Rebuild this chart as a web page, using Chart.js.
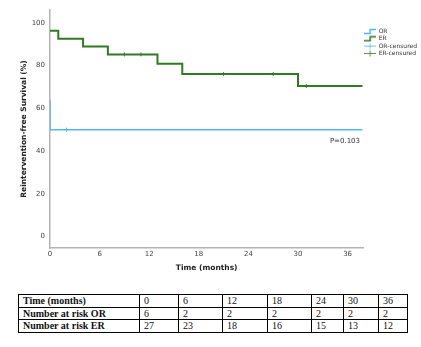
<!DOCTYPE html>
<html>
<head>
<meta charset="utf-8">
<script src="https://cdn.jsdelivr.net/npm/chart.js@4"></script>
<style>
  body { margin: 0; background: #fff; }
  #wrap { position: relative; width: 421px; height: 282px; }
  #risk { position: absolute; left: 18px; top: 294px; border-collapse: collapse;
          font-family: "Liberation Serif", "Times New Roman", serif; font-size: 10px; color: #111; }
  #risk td { border: 1px solid #000; height: 11.6px; padding: 0 0 0 4px; line-height: 11px; }
  #risk td.lab { font-weight: bold; }
</style>
</head>
<body>
<div id="wrap"><canvas id="km"></canvas></div>
<table id="risk"></table>
<script>
// ER group (step points: time in months, survival %)
const erTimes = [0, 1, 4, 7, 13, 16, 30, 37.8];
const erSurv = [96.3, 92.6, 88.9, 85.2, 80.8, 76.0, 70.4, 70.4];
const erCensorTimes = [9, 11, 21, 27, 31];
const erCensorSurv = [85.2, 85.2, 76.0, 76.0, 70.4];

// OR group
const orTimes = [0, 0, 37.8];
const orSurv = [64, 50, 50];
const orCensorTimes = [2];
const orCensorSurv = [50];

const xTicks = [0, 6, 12, 18, 24, 30, 36];
const yTicks = [0, 20, 40, 60, 80, 100];
const pText = "P=0.103";

// number at risk table
const riskTimes = [0, 6, 12, 18, 24, 30, 36];
const riskOR = [6, 2, 2, 2, 2, 2, 2];
const riskER = [27, 23, 18, 16, 15, 13, 12];

const blue = "#4cb8f0";
const green = "#2f7a22";

function pts(xs, ys) {
  return xs.map((x, i) => ({ x: x, y: ys[i] }));
}

// little legend icons
function stepIcon(col) {
  const c = document.createElement("canvas");
  c.width = 12; c.height = 7;
  const g = c.getContext("2d");
  g.strokeStyle = col; g.lineWidth = 1.5;
  g.beginPath(); g.moveTo(0, 5.5); g.lineTo(6, 5.5); g.lineTo(6, 1.5); g.lineTo(12, 1.5); g.stroke();
  return c;
}
function plusIcon(col) {
  const c = document.createElement("canvas");
  c.width = 12; c.height = 7;
  const g = c.getContext("2d");
  g.strokeStyle = col; g.lineWidth = 0.8;
  g.beginPath(); g.moveTo(0, 3.5); g.lineTo(12, 3.5); g.moveTo(6, 0.5); g.lineTo(6, 6.5); g.stroke();
  return c;
}

const pLabel = {
  id: "pLabel",
  afterDatasetsDraw(chart) {
    const ctx = chart.ctx;
    const x = chart.scales.x.getPixelForValue(37.5);
    const y = chart.scales.y.getPixelForValue(44.4);
    ctx.save();
    ctx.font = "7px 'DejaVu Sans'";
    ctx.fillStyle = "#333";
    ctx.textAlign = "right";
    ctx.textBaseline = "middle";
    ctx.fillText(pText, x, y);
    ctx.restore();
  }
};

new Chart(document.getElementById("km"), {
  type: "line",
  data: {
    datasets: [
      { label: "OR", data: pts(orTimes, orSurv), stepped: "before", borderColor: blue, borderWidth: 1.5, pointRadius: 0, fill: false },
      { label: "ER", data: pts(erTimes, erSurv), stepped: "before", borderColor: green, borderWidth: 2, pointRadius: 0, fill: false },
      { label: "OR-censured", data: pts(orCensorTimes, orCensorSurv), showLine: false, pointStyle: "line", rotation: 90, pointRadius: 2, borderColor: blue, borderWidth: 1 },
      { label: "ER-censured", data: pts(erCensorTimes, erCensorSurv), showLine: false, pointStyle: "line", rotation: 90, pointRadius: 2, borderColor: green, borderWidth: 1 }
    ]
  },
  options: {
    responsive: true,
    maintainAspectRatio: false,
    animation: false,
    layout: { padding: { top: 10, right: -6, left: 0, bottom: 0 } },
    plugins: {
      tooltip: { enabled: false },
      legend: {
        position: "right",
        align: "start",
        title: { display: true, text: " ", padding: 5, font: { size: 6 } },
        labels: {
          usePointStyle: true,
          pointStyleWidth: 11,
          boxHeight: 6,
          padding: 1.3,
          color: "#333",
          font: { family: "'DejaVu Sans'", size: 6 },
          generateLabels: () => [
            { text: "OR", pointStyle: stepIcon(blue), fontColor: "#333", lineWidth: 0, hidden: false },
            { text: "ER", pointStyle: stepIcon(green), fontColor: "#333", lineWidth: 0, hidden: false },
            { text: "OR-censured", pointStyle: plusIcon(blue), fontColor: "#333", lineWidth: 0, hidden: false },
            { text: "ER-censured", pointStyle: plusIcon(green), fontColor: "#333", lineWidth: 0, hidden: false }
          ]
        }
      }
    },
    scales: {
      x: {
        type: "linear",
        min: 0,
        max: 37.9,
        afterBuildTicks: s => { s.ticks = xTicks.map(v => ({ value: v })); },
        afterFit: s => { s.height = 34; },
        grid: { display: false, drawTicks: false },
        border: { color: "#b4b4b4", width: 1.5 },
        ticks: { color: "#444", font: { family: "'DejaVu Sans'", size: 7 }, padding: 2, maxRotation: 0 },
        title: { display: true, text: "Time (months)", color: "#222", font: { family: "'DejaVu Sans'", size: 7.5, weight: "bold" }, padding: { top: 0, bottom: 9 } }
      },
      y: {
        min: -5.4,
        max: 106,
        afterBuildTicks: s => { s.ticks = yTicks.map(v => ({ value: v })); },
        afterFit: s => { s.width = 50; },
        grid: { display: false, drawTicks: false },
        border: { color: "#b4b4b4", width: 1.5 },
        ticks: { color: "#444", font: { family: "'DejaVu Sans'", size: 7 }, padding: 5 },
        title: { display: true, text: "Reintervention-free Survival (%)", color: "#222", font: { family: "'DejaVu Sans'", size: 7.5, weight: "bold" }, padding: { top: 20, bottom: 0 } }
      }
    }
  },
  plugins: [pLabel]
});

// number-at-risk table
const table = document.getElementById("risk");
const colW = [121, 39, 44, 45, 44, 32, 35, 29];
function addRow(label, vals) {
  const tr = document.createElement("tr");
  const th = document.createElement("td");
  th.className = "lab"; th.textContent = label; th.style.width = (colW[0] - 5) + "px";
  tr.appendChild(th);
  vals.forEach((v, i) => {
    const td = document.createElement("td");
    td.textContent = v; td.style.width = (colW[i + 1] - 5) + "px";
    tr.appendChild(td);
  });
  table.appendChild(tr);
}
addRow("Time (months)", riskTimes);
addRow("Number at risk OR", riskOR);
addRow("Number at risk ER", riskER);
</script>
</body>
</html>
